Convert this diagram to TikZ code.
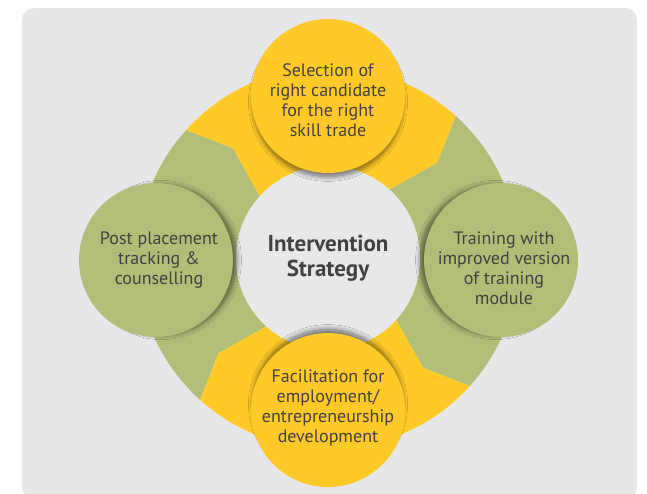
\documentclass[tikz,border=0pt]{standalone}
\usepackage{fontspec}
\setmainfont{PT Sans}
\usetikzlibrary{shadows.blur}

\newlength{\du}
\setlength{\du}{1pt}

\definecolor{panelgray}{rgb}{0.902,0.906,0.910}
\definecolor{hubgray}{rgb}{0.906,0.910,0.914}
\definecolor{stageyellow}{rgb}{1.000,0.792,0.157}
\definecolor{stagegreen}{rgb}{0.694,0.745,0.471}
\definecolor{labelgray}{rgb}{0.255,0.251,0.259}

\tikzset{
  stage/.style={circle, minimum size=154\du, inner sep=0pt},
  stagetext/.style={align=center, text=labelgray, font=\fontsize{18}{20}\selectfont},
  hubtext/.style={align=center, text=labelgray, font=\fontsize{23}{25}\selectfont\bfseries},
  cast/.style 2 args={blur shadow={shadow xshift=#1, shadow yshift=#2, shadow scale=0.97,
    shadow blur radius=5pt, shadow blur steps=16, shadow opacity=55}},
}

\begin{document}
\begin{tikzpicture}
\useasboundingbox (0,0) rectangle (647\du,493\du);
% panel
\fill[panelgray, rounded corners=12\du] (22\du,-6\du) rectangle (637\du,485\du);

% ring of four chevron segments
\begin{scope}[shift={(328\du,235\du)}]
\foreach \a/\col in {48/stageyellow, 138/stagegreen, 228/stageyellow, 318/stagegreen}{
  \pgfmathsetmacro{\b}{\a+90}
  \fill[\col] (\a:191\du) arc[start angle=\a, end angle=\b, radius=191\du]
    -- (\b-7:145\du) -- (\b:92\du)
    arc[start angle=\b, end angle=\a, radius=92\du]
    -- (\a-7:145\du) -- cycle;
}
\end{scope}

\node[circle, minimum size=184\du, inner sep=0pt, fill=hubgray] (hub) at (328\du,235\du) {};

% stages
\node[stage, fill=stageyellow, cast={0pt}{-6pt}] (selection) at (328\du,397\du) {};
\node[stage, fill=stagegreen, cast={-6pt}{0pt}] (training) at (501\du,233\du) {};
\node[stage, fill=stageyellow, cast={0pt}{6pt}] (facilitation) at (328\du,83\du) {};
\node[stage, fill=stagegreen, cast={6pt}{0pt}] (placement) at (156\du,233\du) {};

\node[stagetext] (selectiontext) at ([yshift=-4\du]selection.center) {Selection of\\right candidate\\for the right\\skill trade};
\node[stagetext] (trainingtext) at ([xshift=3\du, yshift=-8\du]training.center) {Training with\\improved version\\of training\\module};
\node[stagetext] (facilitationtext) at ([yshift=2\du]facilitation.center) {Facilitation for\\employment/\\entrepreneurship\\development};
\node[stagetext] (placementtext) at ([xshift=3\du]placement.center) {Post placement\\tracking \&\\counselling};
\node[hubtext] (hubtext) at (hub.center) {Intervention\\Strategy};
\end{tikzpicture}
\end{document}
